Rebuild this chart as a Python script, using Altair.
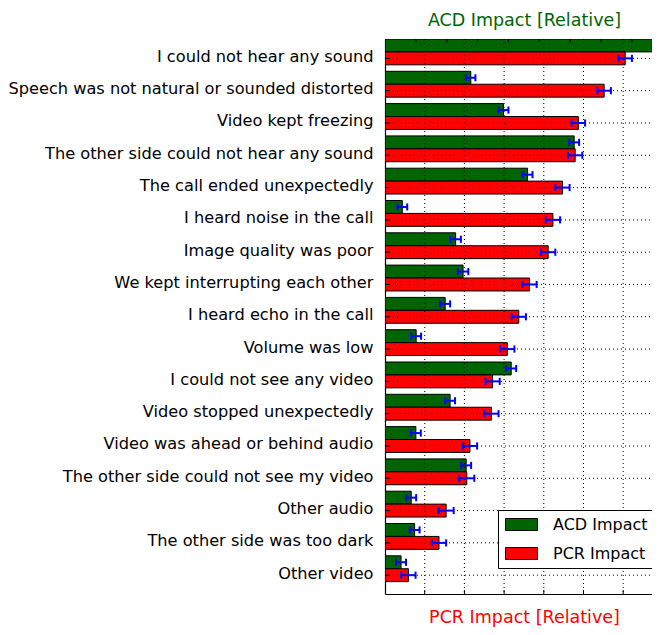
import json
import altair as alt
import pandas as pd

categories = [
    "I could not hear any sound",
    "Speech was not natural or sounded distorted",
    "Video kept freezing",
    "The other side could not hear any sound",
    "The call ended unexpectedly",
    "I heard noise in the call",
    "Image quality was poor",
    "We kept interrupting each other",
    "I heard echo in the call",
    "Volume was low",
    "I could not see any video",
    "Video stopped unexpectedly",
    "Video was ahead or behind audio",
    "The other side could not see my video",
    "Other audio",
    "The other side was too dark",
    "Other video",
]
acd = [8.83, 2.78, 3.84, 6.13, 4.62, 0.56, 2.29, 2.53, 1.95, 1.01, 4.09, 2.11, 1.00, 2.63, 0.85, 0.96, 0.52]
acd_err = [0.16, 0.15, 0.16, 0.16, 0.16, 0.16, 0.17, 0.17, 0.16, 0.16, 0.16, 0.16, 0.16, 0.16, 0.16, 0.16, 0.16]
pcr = [6.05, 5.52, 4.87, 4.79, 4.47, 4.23, 4.11, 3.64, 3.37, 3.08, 2.71, 2.68, 2.14, 2.06, 1.54, 1.36, 0.59]
pcr_err = [0.17, 0.17, 0.17, 0.18, 0.18, 0.18, 0.18, 0.18, 0.18, 0.18, 0.18, 0.18, 0.18, 0.19, 0.19, 0.18, 0.18]
acd_ticks = [1, 2, 3, 4, 5, 6, 7, 8]
pcr_ticks = [1, 2, 3, 4, 5, 6]
series_names = ["ACD Impact", "PCR Impact"]
series_colors = ["#006400", "#ff0000"]

FONT = "DejaVu Sans"
W, H = 267, 555
ACD_MAX = W / 30.86
PCR_MAX = W / 39.7
Y_MAX = H / 32.3

df = pd.DataFrame({
    "idx": list(range(len(categories))),
    "label": categories,
    "acd": acd,
    "acd_err": acd_err,
    "pcr": pcr,
    "pcr_err": pcr_err,
})

label_expr = json.dumps(categories) + "[round(datum.value - 0.6)]"
y_axis = alt.Axis(
    values=[round(i + 0.6, 2) for i in range(len(categories))],
    labelExpr=label_expr, title=None, labelLimit=400, labelOffset=-2,
    labelFontSize=16.2, labelFont=FONT, labelColor="black", labelPadding=12,
    ticks=False, grid=False, domainColor="black", domainWidth=1.2,
)


def acd_x(field, axis=None):
    return alt.X(field, scale=alt.Scale(domain=[0, ACD_MAX], nice=False, zero=False), axis=axis)


def pcr_x(field, axis=None):
    return alt.X(field, scale=alt.Scale(domain=[0, PCR_MAX], nice=False, zero=False), axis=axis)


def yy(field):
    return alt.Y(field, scale=alt.Scale(domain=[0, Y_MAX], reverse=True, nice=False, zero=False), axis=y_axis)


color = alt.Color(
    "series:N",
    scale=alt.Scale(domain=series_names, range=series_colors),
    legend=alt.Legend(
        title=None, orient="none", legendX=113, legendY=471,
        direction="vertical", strokeColor="black", fillColor="white",
        padding=6, labelFontSize=16, labelFont=FONT, labelColor="black",
        labelOffset=23, rowPadding=12, cornerRadius=0,
        symbolType="M-2,-0.75H2V0.75H-2Z", symbolSize=256, symbolOffset=9,
        symbolStrokeColor="black", symbolStrokeWidth=1, symbolOpacity=1,
    ),
)

acd_axis = alt.Axis(
    orient="top", labels=False, grid=False, ticks=False,
    domainColor="black", domainWidth=1.2,
    title="ACD Impact [Relative]", titleColor="#006400", titleFontSize=17.5,
    titleFont=FONT, titleFontWeight="normal", titleY=-14, titleX=139,
    titleAlign="center", titleBaseline="alphabetic",
)
pcr_axis = alt.Axis(
    orient="bottom", labels=False, ticks=False, grid=False,
    domainColor="black", domainWidth=1.2,
    title="PCR Impact [Relative]", titleColor="#ff0000", titleFontSize=17.5,
    titleFont=FONT, titleFontWeight="normal", titleY=28, titleX=139,
    titleAlign="center", titleBaseline="alphabetic",
)

acd_base = alt.Chart(df).transform_calculate(
    zero="0", y0="datum.idx", y1="datum.idx + 0.4", yc="datum.idx + 0.2",
    ylo="datum.idx + 0.09", yhi="datum.idx + 0.31",
    lo="datum.acd - datum.acd_err", hi="datum.acd + datum.acd_err",
    series="'ACD Impact'",
)
pcr_base = alt.Chart(df).transform_calculate(
    zero="0", y0="datum.idx + 0.4", y1="datum.idx + 0.8", yc="datum.idx + 0.6",
    ylo="datum.idx + 0.49", yhi="datum.idx + 0.71",
    lo="datum.pcr - datum.pcr_err", hi="datum.pcr + datum.pcr_err",
    series="'PCR Impact'",
)

ERR = dict(color="#0000ff", strokeWidth=2, clip=True)

acd_bars = acd_base.mark_bar(stroke="black", strokeWidth=1, clip=True).encode(
    x=acd_x("zero:Q", acd_axis), x2="acd:Q", y=yy("y0:Q"), y2="y1:Q", color=color,
)
acd_line = acd_base.mark_rule(**ERR).encode(x=acd_x("lo:Q"), x2="hi:Q", y=yy("yc:Q"))
acd_cap_lo = acd_base.mark_rule(**ERR).encode(x=acd_x("lo:Q"), y=yy("ylo:Q"), y2="yhi:Q")
acd_cap_hi = acd_base.mark_rule(**ERR).encode(x=acd_x("hi:Q"), y=yy("ylo:Q"), y2="yhi:Q")
acd_tick_marks = alt.Chart(pd.DataFrame({"t": acd_ticks})).mark_rule(
    color="black", strokeWidth=1
).encode(x=acd_x("t:Q"), y=alt.value(0), y2=alt.value(4))

pcr_bars = pcr_base.mark_bar(stroke="black", strokeWidth=1, clip=True).encode(
    x=pcr_x("zero:Q", pcr_axis), x2="pcr:Q", y=yy("y0:Q"), y2="y1:Q", color=color,
)
pcr_line = pcr_base.mark_rule(**ERR).encode(x=pcr_x("lo:Q"), x2="hi:Q", y=yy("yc:Q"))
pcr_cap_lo = pcr_base.mark_rule(**ERR).encode(x=pcr_x("lo:Q"), y=yy("ylo:Q"), y2="yhi:Q")
pcr_cap_hi = pcr_base.mark_rule(**ERR).encode(x=pcr_x("hi:Q"), y=yy("ylo:Q"), y2="yhi:Q")
pcr_tick_marks = alt.Chart(pd.DataFrame({"t": pcr_ticks})).mark_rule(
    color="black", strokeWidth=1
).encode(x=pcr_x("t:Q"), y=alt.value(H), y2=alt.value(H - 4))

grid_v = alt.Chart(pd.DataFrame({"t": pcr_ticks})).mark_rule(
    color="black", strokeWidth=1, strokeDash=[1, 3]
).encode(x=pcr_x("t:Q"), y=alt.value(0), y2=alt.value(H))
grid_h = pcr_base.mark_rule(color="black", strokeWidth=1, strokeDash=[1, 3]).encode(
    x=alt.value(0), x2=alt.value(W), y=yy("yc:Q"),
)
y_tick_marks = pcr_base.mark_rule(color="black", strokeWidth=1).encode(
    x=alt.value(0), x2=alt.value(4), y=yy("yc:Q"),
)

chart = (
    alt.layer(
        acd_bars, pcr_bars, grid_v, grid_h,
        acd_line, acd_cap_lo, acd_cap_hi, pcr_line, pcr_cap_lo, pcr_cap_hi,
        acd_tick_marks, pcr_tick_marks, y_tick_marks,
    )
    .resolve_scale(x="independent")
    .properties(
        width=W, height=H,
        autosize=alt.AutoSizeParams(type="none"),
        padding={"left": 377, "top": 31, "right": 0, "bottom": 33},
    )
    .configure_view(stroke=None)
    .configure(font=FONT)
)

chart.save("out.html", embed_options={"renderer": "svg", "actions": False})
